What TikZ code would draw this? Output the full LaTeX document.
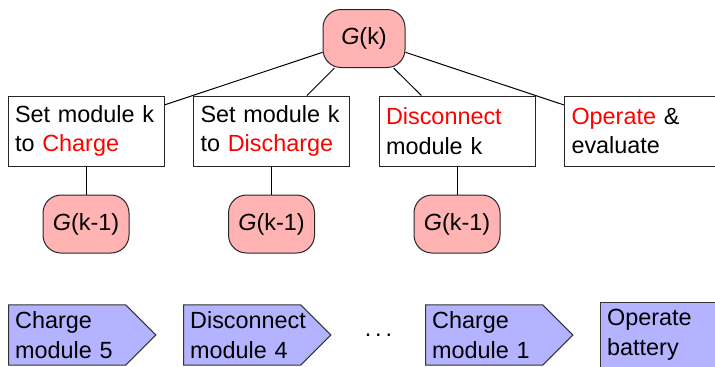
\documentclass[tikz,border=0pt]{standalone}
\usepackage{fontspec}
\setmainfont{Liberation Sans}
\usetikzlibrary{shapes.symbols}
\definecolor{gpink}{RGB}{255,179,179}
\definecolor{sblue}{RGB}{179,179,255}
\definecolor{hot}{RGB}{255,0,0}
\begin{document}
\begin{tikzpicture}[x=0.5pt,y=-0.5pt,
  font=\fontsize{11.7pt}{14.8pt}\selectfont,
  line width=0.5pt,
  gnode/.style={draw=black!85, fill=gpink, rounded corners=9pt,
    minimum height=29pt, inner sep=0pt},
  choice/.style={draw=black!85, fill=white, text width=71pt,
    minimum height=35pt, align=left, inner xsep=3.5pt, inner ysep=0pt},
  stage/.style={signal, signal to=east, signal pointer angle=90,
    draw=black!80, fill=sblue, text width=52pt, align=left,
    inner sep=0.3333em, anchor=west},
  last/.style={rectangle, draw=black!80, fill=sblue, text width=52pt,
    align=left, inner sep=0.3333em, anchor=west},
  link/.style={draw=black}]
\useasboundingbox (0,0) rectangle (715,366);

% root of the decision tree
\node[gnode, minimum width=41pt] (root) at (364,38.5) {\textit{G}(k)};

% the four choices for module k
\node[choice] (c1) at (86,131)    {Set module k\\to \textcolor{hot}{Charge}};
\node[choice] (c2) at (271.5,131) {Set module k\\to \textcolor{hot}{Discharge}};
\node[choice] (c3) at (457,131)   {\textcolor{hot}{Disconnect}\\module k};
\node[choice] (c4) at (642.5,131) {\textcolor{hot}{Operate} \&\\evaluate};

% recursive subproblems
\node[gnode, minimum width=43pt] (s1) at (86,224)    {\textit{G}(k-1)};
\node[gnode, minimum width=43pt] (s2) at (271.5,224) {\textit{G}(k-1)};
\node[gnode, minimum width=43pt] (s3) at (457,224)   {\textit{G}(k-1)};

\foreach \c in {c1,c2,c3,c4} \draw[link] (root) -- (\c);
\draw[link] (c1.south) -- (s1.north);
\draw[link] (c2.south) -- (s2.north);
\draw[link] (c3.south) -- (s3.north);

% resulting sequence of actions
\node[stage] (a1) at (8,335)   {Charge\\module 5};
\node[stage] (a2) at (183,335) {Disconnect\\module 4};
\node[inner sep=0pt] (dots) at (378.5,335.5) {.\kern2pt.\kern2pt.};
\node[stage] (a3) at (425,335) {Charge\\module 1};
\node[last]  (a4) at (600,335) {Operate\\battery};
\end{tikzpicture}
\end{document}
